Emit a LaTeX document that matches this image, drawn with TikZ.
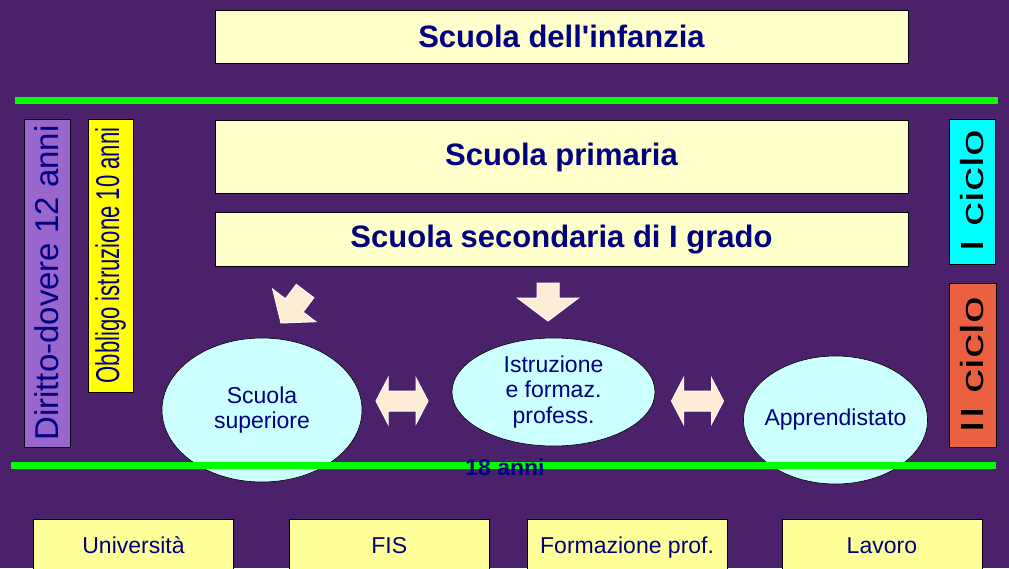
\documentclass[tikz,border=0pt]{standalone}
\usepackage{fontspec}
\setmainfont{Liberation Sans}
\usetikzlibrary{shapes,arrows,positioning}
\definecolor{bgpurple}{RGB}{75,33,107}
\definecolor{paleyellow}{RGB}{255,255,204}
\definecolor{exityellow}{RGB}{255,255,153}
\definecolor{navytext}{RGB}{0,0,128}
\definecolor{lilac}{RGB}{153,102,204}
\definecolor{cicloorange}{RGB}{234,96,64}
\definecolor{ciclocyan}{RGB}{0,255,255}
\definecolor{obbligoyellow}{RGB}{255,255,0}
\definecolor{paleblue}{RGB}{204,255,255}
\definecolor{cream}{RGB}{255,236,212}
\tikzset{block/.style={draw,
                       rectangle,
                       fill=paleyellow,
                       line width=0.8pt,
                       minimum width=693pt,
                       inner sep=0pt,
                       text=navytext,
                       font=\fontsize{31}{36}\selectfont\bfseries},
         vbar/.style={draw, rectangle, rotate=90, line width=0.8pt, inner sep=0pt},
         route/.style={draw, ellipse, fill=paleblue, line width=0.6pt,
                       inner sep=-12pt, align=center, text=navytext,
                       font=\fontsize{23}{25.5}\selectfont},
         exit/.style={draw, rectangle, fill=exityellow, line width=0.8pt,
                      minimum width=200pt, minimum height=56pt, inner sep=0pt,
                      text height=16pt, text depth=4pt,
                      text=navytext, font=\fontsize{23}{26}\selectfont},
         bigarrow/.style={fill=cream, draw=white, line width=1pt},
         limit/.style={draw=green, line width=7pt}}

\begin{document}
\begin{tikzpicture}[x=1pt,y=-1pt]
    % background of the slide
    \fill [bgpurple] (0,0) rectangle (1009,568);
    \useasboundingbox (0,0) rectangle (1009,568);
    \clip (0,0) rectangle (1009,568);
    % the green limits
    \coordinate (limitA-w) at (15,100.5);
    \coordinate (limitA-e) at (998,100.5);
    \coordinate (limitB-w) at (11,465);
    \coordinate (limitB-e) at (996,465);
    \draw [limit] (limitA-w) -- (limitA-e);
    % We start by placing the school blocks
    \node [block, minimum height=53pt] (Infanzia) at (561.5,36.5) {Scuola dell\textquotesingle infanzia};
    \node [block, minimum height=73pt, below=57pt of Infanzia] (Primaria) {Scuola primaria};
    \node [block, minimum height=54pt, below=18pt of Primaria] (Secondaria) {Scuola secondaria di I grado};
    % the vertical bars at the sides
    \node [vbar, fill=lilac, minimum width=328pt, minimum height=46pt, text=navytext,
           font=\fontsize{33}{40}\selectfont] (Diritto) at (47,283) {Diritto-dovere 12 anni};
    \node [vbar, fill=obbligoyellow, minimum width=273pt, minimum height=45pt, text=navytext,
           font=\fontsize{33}{40}\selectfont] (Obbligo) at (110.5,255.5) {\scalebox{0.67}[1]{Obbligo istruzione 10 anni}};
    \node [vbar, fill=ciclocyan, minimum width=145pt, minimum height=46pt,
           font=\fontsize{32}{38}\selectfont] (CicloI) at (972,191.5) {\scalebox{1.5}[1]{I ciclo}};
    \node [vbar, fill=cicloorange, minimum width=164pt, minimum height=47pt,
           font=\fontsize{32}{38}\selectfont] (CicloII) at (972.5,365) {\scalebox{1.5}[1]{II ciclo}};
    % the three routes after the first cycle
    \node [route, minimum width=200pt, minimum height=144pt] (Superiore) at (262,410) {Scuola\\superiore};
    \node [route, minimum width=203pt, minimum height=108pt] (Istruzione) at (553.5,392) {Istruzione\\e formaz.\\profess.};
    \node [route, minimum width=184pt, minimum height=128pt] (Apprendistato) at (835.5,420) {Apprendistato};
    \draw [limit] (limitB-w) -- (limitB-e);
    \node [text=navytext, font=\fontsize{23}{26}\selectfont\bfseries] (Anni) at (505,467) {18 anni};
    % block arrows
    \draw [bigarrow, shift={(548,321)}] (0,0) -- (30.5,-23) -- (11,-23) -- (11,-38)
          -- (-11,-38) -- (-11,-23) -- (-30.5,-23) -- cycle;
    \draw [bigarrow, shift={(281,323)}, rotate=-37] (0,0) -- (27,-22) -- (11,-22) -- (11,-40)
          -- (-11,-40) -- (-11,-22) -- (-27,-22) -- cycle;
    \foreach \cx in {402,697.5}
        \draw [bigarrow, shift={(\cx,401)}] (-26,0) -- (-14,-23) -- (-14,-10) -- (14,-10)
              -- (14,-23) -- (26,0) -- (14,23) -- (14,10) -- (-14,10) -- (-14,23) -- cycle;
    % what comes after 18 years
    \node [exit] (Universita) at (133.5,547.5) {Università};
    \node [exit, right=55pt of Universita] (Fis) {FIS};
    \node [exit, right=37pt of Fis] (Formazione) {Formazione prof.};
    \node [exit, right=54pt of Formazione] (Lavoro) {Lavoro};
\end{tikzpicture}
\end{document}
